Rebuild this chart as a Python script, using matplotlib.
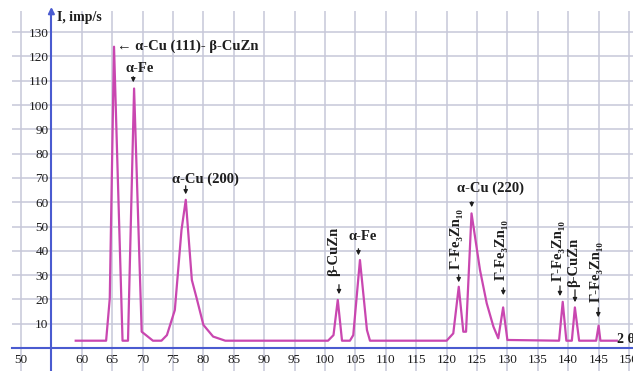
import matplotlib
matplotlib.use("Agg")
import matplotlib.pyplot as plt

plt.rcParams['font.family'] = ['Liberation Serif', 'DejaVu Serif']

# diffractogram
two_theta = [59, 64.0, 64.6, 65.3, 66.7, 67.6, 68.6, 69.85, 71.7, 73.1,
             74.0, 75.3, 76.4, 77.1, 78.1, 78.9, 80.0, 81.6, 83.6,
             100.5, 101.4, 102.1, 102.8, 104.1, 104.65, 105.75, 106.9, 107.4,
             120.0, 121.1, 122.0, 122.75, 123.2, 124.1, 125.5, 126.6, 127.7,
             128.5, 129.3, 130.0, 138.5, 139.1, 139.7, 140.6, 141.1, 141.8,
             144.6, 145.0, 145.3, 148.0]
intensity = [3, 3, 20.4, 124, 3, 3, 106.8, 6.7, 3, 3,
             5.3, 15.6, 48.6, 61, 28, 20.4, 9.5, 4.7, 3,
             3, 5.3, 19.8, 3, 3, 5.3, 36.2, 7.4, 3,
             3, 6, 25.2, 6.7, 6.7, 55.4, 32, 18.4, 8.8,
             4, 16.7, 3.3, 3, 19, 3, 3, 16.7, 3,
             3, 9.2, 3, 3]

x_ticks = list(range(50, 151, 5))
y_ticks = list(range(0, 131, 10))

gamma = "Γ-Fe₃Zn₁₀"

blue = '#4a5bd0'
line_color = '#c947b0'
grid_color = '#c6c7d8'
txt = '#1e1e1e'

fig = plt.figure(figsize=(6.33, 3.71), dpi=100)
ax = fig.add_axes([12 / 633, 0, 1 - 12 / 633, 1 - 11 / 371])
ax.set_xlim(48.52, 150.66)
ax.set_ylim(-9.47, 138.7)

ax.plot(two_theta, intensity, color=line_color, lw=1.6, zorder=3)

ax.set_xticks(x_ticks)
ax.set_xticklabels(['' if t == 55 else str(t) for t in x_ticks], fontweight='bold')
ax.set_yticks(y_ticks)
ax.set_yticklabels(['' if t == 0 else str(t) for t in y_ticks], fontweight='bold')
ax.grid(True, color=grid_color, lw=1.1, zorder=0)
ax.tick_params(length=0, labelsize=9.5, labelcolor=txt)
ax.tick_params(axis='x', pad=4)
ax.tick_params(axis='y', pad=2)

for s in ['top', 'right']:
    ax.spines[s].set_visible(False)
ax.spines['left'].set_position(('data', 55))
ax.spines['bottom'].set_position(('data', 0))
for s in ['left', 'bottom']:
    ax.spines[s].set_color(blue)
    ax.spines[s].set_linewidth(1.5)

# arrow head on the intensity axis
ax.annotate('', xy=(55, 141.5), xytext=(55, 137),
            arrowprops=dict(arrowstyle='-|>', color=blue, lw=1.5, mutation_scale=9),
            annotation_clip=False)
ax.text(55.9, 136.2, "I, imp/s", fontsize=10, fontweight='bold', color=txt,
        ha='left', va='center', clip_on=False)
ax.text(148.03, 3.3, "2 θ", fontsize=10, fontweight='bold', color=txt,
        ha='left', va='center')

arrow_kw = dict(arrowstyle='-|>', color=txt, lw=0.9, mutation_scale=6)


def down_arrow(x, y0, y1):
    ax.annotate('', xy=(x, y1), xytext=(x, y0), arrowprops=arrow_kw)


lab = dict(fontsize=10.5, fontweight='bold', color=txt, va='center')

ax.text(65.79, 124.3, "← α-Cu (111)- β-CuZn", ha='left', **lab)

ax.text(69.57, 115.2, "α-Fe", ha='center', **lab)
down_arrow(68.47, 112.8, 108.2)

ax.text(74.84, 69.5, "α-Cu (200)", ha='left', **lab)
down_arrow(77.09, 67.9, 62.1)

ax.text(101.37, 39.9, "β-CuZn", ha='center', rotation=90, **lab)
down_arrow(102.3, 27.2, 21.0)

ax.text(106.25, 45.7, "α-Fe", ha='center', **lab)
down_arrow(105.5, 42.0, 37.0)

ax.text(121.66, 44.9, gamma, ha='center', rotation=90, **lab)
down_arrow(121.99, 31.3, 25.9)

ax.text(127.14, 65.8, "α-Cu (220)", ha='center', **lab)
down_arrow(124.13, 61.3, 56.8)

ax.text(129.06, 40.7, gamma, ha='center', rotation=90, **lab)
down_arrow(129.33, 25.9, 20.6)

ax.text(138.37, 40.3, gamma, ha='center', rotation=90, **lab)
down_arrow(138.65, 26.7, 20.2)

ax.text(140.84, 35.4, "β-CuZn", ha='center', rotation=90, **lab)
down_arrow(141.12, 25.1, 17.7)

ax.text(144.57, 31.3, gamma, ha='center', rotation=90, **lab)
down_arrow(144.95, 17.7, 11.5)

fig.savefig('out.png', dpi=100)
